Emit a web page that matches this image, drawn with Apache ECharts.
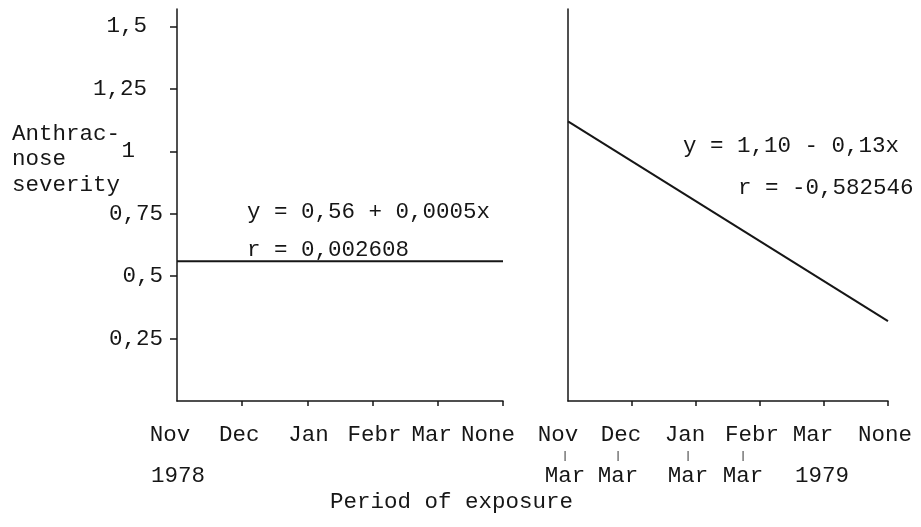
<!DOCTYPE html>
<html>
<head>
<meta charset="utf-8">
<script src="https://cdn.jsdelivr.net/npm/echarts@6/dist/echarts.min.js"></script>
<style>
  html, body { margin: 0; padding: 0; background: #ffffff; }
  #chart { width: 921px; height: 527px; }
</style>
</head>
<body>
<div id="chart"></div>
<script>
// Exposure periods, first season (1978) and second season (1979)
const periods1978 = ['Nov', 'Dec', 'Jan', 'Febr', 'Mar', 'None'];
const secondRow1978 = ['1978', '', '', '', '', ''];
const periods1979 = ['Nov', 'Dec', 'Jan', 'Febr', 'Mar', 'None'];
const secondRow1979 = ['Mar', 'Mar', 'Mar', 'Mar', '1979', ''];

// Severity scale
const severityTicks = [0.25, 0.5, 0.75, 1, 1.25, 1.5];
const severityTickLabels = ['0,25', '0,5', '0,75', '1', '1,25', '1,5'];

// Fitted regression lines: [period index, severity]
const fit1978 = [[0, 0.56], [5, 0.56]];
const fit1979 = [[0, 1.12], [5, 0.32]];

// Regression equations
const equation1978 = ['y = 0,56 + 0,0005x', 'r = 0,002608'];
const equation1979 = ['y = 1,10 - 0,13x', 'r = -0,582546'];

const yAxisTitle = 'Anthrac-\nnose\nseverity';
const xAxisTitle = 'Period of exposure';

// ---- styling ----
const FONT_FAMILY = '"Liberation Mono", "DejaVu Sans Mono", monospace';
const FONT_SIZE = 22.5;
const FONT = FONT_SIZE + 'px ' + FONT_FAMILY;
const INK = '#161616';
const Y_MAX = 1.57;

// typewriter placement of the period labels (horizontal nudge in px per label: [first row, last row])
const nudges1978 = [[-7, 1], [-3, 0], [1, 0], [2, 0], [-6, 0], [-15, 0]];
const nudges1979 = [[-10, -3], [-11, -14], [-11, -8], [-8, -17], [-11, -2], [-3, 0]];

function padFor(dx) {
  return dx < 0 ? [0, -2 * dx, 0, 0] : [0, 0, 0, 2 * dx];
}

function textStyle(dx, extra) {
  return Object.assign({
    fontFamily: FONT_FAMILY, fontSize: FONT_SIZE, color: INK,
    lineHeight: 20.5, padding: padFor(dx)
  }, extra || {});
}

function periodAxis(gridIndex, periods, secondRow, nudges) {
  const rich = {};
  periods.forEach((p, i) => {
    rich['a' + i] = textStyle(nudges[i][0]);
    rich['c' + i] = textStyle(nudges[i][1]);
    rich['b' + i] = textStyle(nudges[i][1], { fontSize: 11 });
  });
  return {
    type: 'category', gridIndex, data: periods, boundaryGap: false,
    axisLine: { lineStyle: { color: INK, width: 1.5 } },
    axisTick: { length: 5, interval: (i) => i > 0, lineStyle: { color: INK, width: 1.5 } },
    splitLine: { show: false },
    axisLabel: {
      interval: 0, margin: 24, lineHeight: 20.5,
      fontFamily: FONT_FAMILY, fontSize: FONT_SIZE, color: INK,
      formatter: (value, i) => {
        const lines = ['{a' + i + '|' + value + '}'];
        const second = secondRow[i];
        if (second) {
          const isRange = !/^\d{4}$/.test(second);
          lines.push('{b' + i + '|' + (isRange ? '|' : ' ') + '}');
          lines.push('{c' + i + '|' + second + '}');
        }
        return lines.join('\n');
      },
      rich
    }
  };
}

function severityAxis(gridIndex, withLabels) {
  return {
    type: 'value', gridIndex, min: 0, max: Y_MAX,
    axisLine: { show: true, lineStyle: { color: INK, width: 1.5 } },
    axisTick: {
      show: withLabels, length: 7, customValues: severityTicks,
      lineStyle: { color: INK, width: 1.5 }
    },
    splitLine: { show: false },
    axisLabel: {
      show: withLabels, margin: 14, customValues: severityTicks,
      fontFamily: FONT_FAMILY, fontSize: FONT_SIZE, color: INK,
      formatter: (v) => {
        const idx = severityTicks.findIndex(t => Math.abs(t - v) < 1e-9);
        if (idx < 0) return '';
        const lbl = severityTickLabels[idx];
        if (v === 1) return '{one|' + lbl + '}';
        if (v > 1) return '{hi|' + lbl + '}';
        return '{lo|' + lbl + '}';
      },
      rich: {
        hi: { fontFamily: FONT_FAMILY, fontSize: FONT_SIZE, color: INK, padding: [0, 16, 0, 0] },
        one: { fontFamily: FONT_FAMILY, fontSize: FONT_SIZE, color: INK, padding: [0, 28, 0, 0] },
        lo: { fontFamily: FONT_FAMILY, fontSize: FONT_SIZE, color: INK }
      }
    }
  };
}

function label(text, x, y, extra) {
  return {
    type: 'text', x, y,
    style: Object.assign({ text, font: FONT, fill: INK, verticalAlign: 'middle' }, extra || {})
  };
}

const chart = echarts.init(document.getElementById('chart'), null, { renderer: 'canvas' });

chart.setOption({
  backgroundColor: '#ffffff',
  animation: false,
  grid: [
    { left: 177, right: 418, top: 9, bottom: 126 },
    { left: 568, right: 33, top: 9, bottom: 126 }
  ],
  xAxis: [
    periodAxis(0, periods1978, secondRow1978, nudges1978),
    periodAxis(1, periods1979, secondRow1979, nudges1979)
  ],
  yAxis: [
    severityAxis(0, true),
    severityAxis(1, false)
  ],
  series: [
    {
      type: 'line', xAxisIndex: 0, yAxisIndex: 0, data: fit1978,
      symbol: 'none', lineStyle: { color: INK, width: 2 }
    },
    {
      type: 'line', xAxisIndex: 1, yAxisIndex: 1, data: fit1979,
      symbol: 'none', lineStyle: { color: INK, width: 2 }
    }
  ],
  graphic: [
    {
      type: 'text', x: 12, y: 121,
      style: { text: yAxisTitle, font: FONT, fill: INK, lineHeight: 25.5, verticalAlign: 'top' }
    },
    label(equation1978[0], 247, 212),
    label(equation1978[1], 247, 250),
    label(equation1979[0], 683, 146),
    label(equation1979[1], 738, 188),
    label(xAxisTitle, 330, 502)
  ]
});
</script>
</body>
</html>
